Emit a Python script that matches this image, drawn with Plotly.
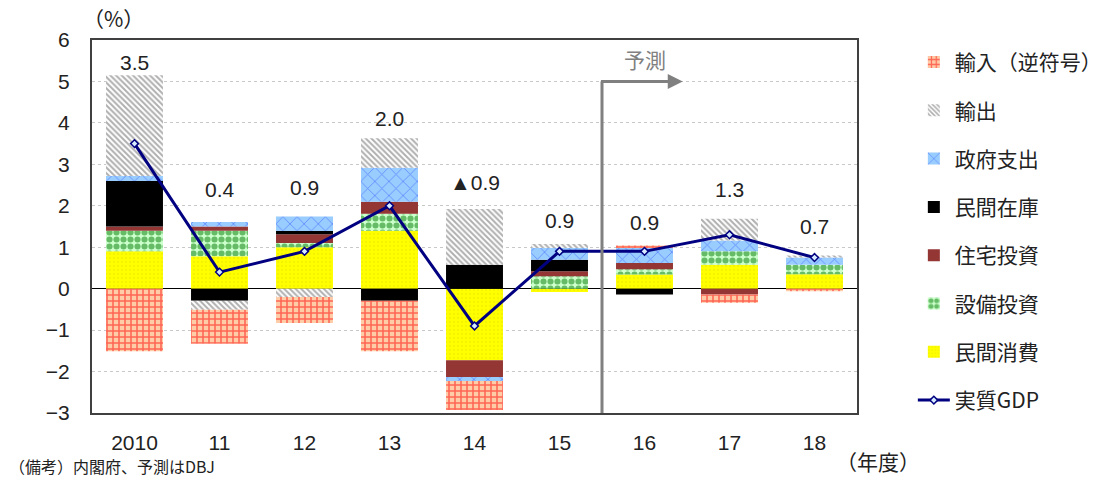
import plotly.graph_objects as go

categories = ["2010", "11", "12", "13", "14", "15", "16", "17", "18"]

cons      = [0.90, 0.78, 1.00, 1.40, -1.73, -0.08, 0.34, 0.58, 0.35]
capex     = [0.50, 0.62, 0.10, 0.41, 0.00, 0.30, 0.13, 0.32, 0.23]
housing   = [0.10, 0.10, 0.21, 0.29, -0.40, 0.12, 0.15, -0.14, 0.00]
inventory = [1.10, -0.29, 0.08, -0.29, 0.58, 0.28, -0.14, 0.00, 0.00]
govt      = [0.12, 0.11, 0.35, 0.82, -0.10, 0.28, 0.36, 0.26, 0.17]
exports   = [2.43, -0.22, -0.20, 0.71, 1.34, 0.10, 0.00, 0.53, 0.05]
imports   = [-1.51, -0.82, -0.63, -1.22, -0.70, 0.00, 0.06, -0.20, -0.06]
gdp       = [3.5, 0.4, 0.9, 2.0, -0.9, 0.9, 0.9, 1.3, 0.75]

label_text = ["3.5", "0.4", "0.9", "2.0", "▲0.9", "0.9", "0.9", "1.3", "0.7"]
label_y    = [5.45, 2.4, 2.45, 4.1, 2.55, 1.65, 1.6, 2.4, 1.5]

y_ticks = [-3, -2, -1, 0, 1, 2, 3, 4, 5, 6]

FONT = "Liberation Sans, Arial, Noto Sans CJK JP"
JFONT = "Noto Sans CJK JP, Liberation Sans"

fig = go.Figure()

BW = 0.67

def add_bar(name, vals, rank, color, pattern=None):
    marker = dict(color=color, line=dict(width=0))
    if pattern:
        marker["pattern"] = pattern
    fig.add_trace(go.Bar(
        x=categories, y=vals, name=name, width=BW, marker=marker,
        legendrank=rank, legendgroup=name,
    ))

add_bar("民間消費", cons, 7, "#FFFF00",
        dict(shape=".", fgcolor="#E8E800", bgcolor="#FFFF00", size=4, solidity=0.25))
add_bar("設備投資", capex, 6, "#CCFFCC",
        dict(shape=".", fgcolor="#007A00", bgcolor="#CCFFCC", size=7, solidity=0.6))
add_bar("住宅投資", housing, 5, "#943634")
add_bar("民間在庫", inventory, 4, "#000000")
add_bar("政府支出", govt, 3, "#99CCFF",
        dict(shape="x", fgcolor="#1F3FFF", bgcolor="#99CCFF", size=10, solidity=0.15))
add_bar("輸出", exports, 2, "#FFFFFF",
        dict(shape="\\", fgcolor="#606060", bgcolor="#FFFFFF", size=4, solidity=0.5))
add_bar("輸入（逆符号）", imports, 1, "#FFCCA8",
        dict(shape="+", fgcolor="#FF0000", bgcolor="#FFCCA8", size=6, solidity=0.45))

fig.add_trace(go.Scatter(
    x=categories, y=gdp, name="実質GDP", mode="lines+markers",
    line=dict(color="#000080", width=3),
    marker=dict(symbol="diamond", size=6, color="#D6EBFF",
                line=dict(color="#000080", width=1.5)),
    legendrank=8, legendgroup="gdp",
))

for i, (t, yv) in enumerate(zip(label_text, label_y)):
    fig.add_annotation(x=i, y=yv, text=t, showarrow=False,
                       font=dict(size=21, color="#222", family=FONT))

# forecast marker
fig.add_shape(type="line", x0=5.5, x1=5.5, y0=-3, y1=5.0,
              line=dict(color="#808080", width=3), layer="above")
fig.add_annotation(x=6.45, y=5.0, ax=5.47, ay=5.0, axref="x", ayref="y",
                   xref="x", yref="y", showarrow=True, arrowhead=2,
                   arrowsize=1, arrowwidth=3, arrowcolor="#808080", text="")
fig.add_annotation(x=6.0, y=5.55, text="予測", showarrow=False,
                   font=dict(size=21, color="#808080", family=JFONT))

fig.add_annotation(xref="paper", yref="paper", x=-0.015, y=1.059, yanchor="middle",
                   xanchor="left", text="（%）", showarrow=False,
                   font=dict(size=21, color="#222", family=JFONT))
fig.add_annotation(xref="paper", yref="paper", x=1.085, y=-0.13, yanchor="middle",
                   xanchor="right", text="（年度）", showarrow=False,
                   font=dict(size=21, color="#222", family=JFONT))
fig.add_annotation(xref="paper", yref="paper", x=-0.111, y=-0.142, yanchor="middle",
                   xanchor="left", text="（備考）内閣府、予測はDBJ", showarrow=False,
                   font=dict(size=16, color="#222", family=JFONT))

fig.update_layout(
    width=1119, height=479,
    margin=dict(l=92, r=259, t=40, b=66),
    paper_bgcolor="white", plot_bgcolor="white",
    barmode="relative",
    font=dict(family=FONT, size=21, color="#222"),
    showlegend=True,
    legend=dict(x=1.073, y=0.995, xanchor="left", yanchor="top",
                font=dict(size=21, family=JFONT, color="#222"),
                traceorder="grouped", tracegroupgap=18, maxheight=470,
                bgcolor="rgba(0,0,0,0)", itemwidth=32),
)
fig.update_xaxes(type="category", range=[-0.5, 8.5], showgrid=False, showline=True,
                 mirror=True, linecolor="#404040", linewidth=2, ticks="",
                 tickfont=dict(size=21, family=FONT), ticklabelstandoff=10)
fig.update_yaxes(range=[-3, 6], tickvals=y_ticks, showgrid=True,
                 gridcolor="#C8C8C8", griddash="dot", gridwidth=1,
                 zeroline=True, zerolinecolor="#000", zerolinewidth=1,
                 showline=True, mirror=True, linecolor="#404040", linewidth=2,
                 ticks="", tickfont=dict(size=21, family=FONT), ticklabelstandoff=16)

fig.write_html("out.html")
